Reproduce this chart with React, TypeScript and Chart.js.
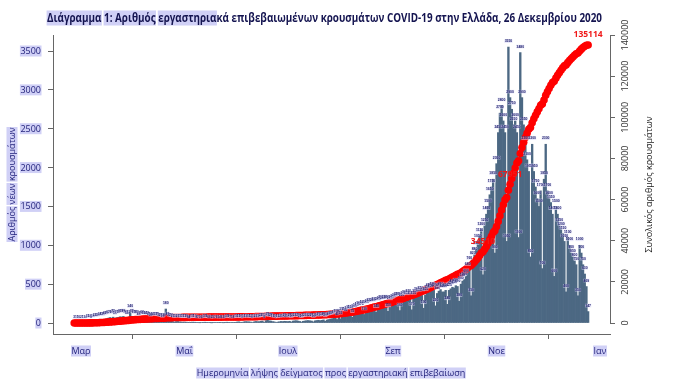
import React, { useEffect, useRef } from 'react';
import { Chart, registerables } from 'chart.js';

Chart.register(...registerables);

// ---------- texts ----------
const titleText =
  'Διάγραμμα 1: Αριθμός εργαστηριακά επιβεβαιωμένων κρουσμάτων COVID-19 στην Ελλάδα, 26 Δεκεμβρίου 2020';
const titleHighlighted = ['Διάγραμμα', '1: Αριθμός', 'εργαστηρια'];
const xAxisTitle = 'Ημερομηνία λήψης δείγματος προς εργαστηριακή επιβεβαίωση';
const yLeftTitle = 'Αριθμός νέων κρουσμάτων';
const yRightTitle = 'Συνολικός αριθμός κρουσμάτων';

// ---------- data (daily new cases by sample date) ----------
const firstSampleDate = '2020-02-26';
const casesFeb = [3, 1, 1, 0];
const casesMar = [2, 1, 3, 4, 12, 14, 8, 18, 22, 28, 30, 38, 42, 35, 48, 55, 62, 70, 65, 75, 50, 70, 72, 80, 78, 85, 70, 55, 72, 140, 85];
const casesApr = [65, 70, 60, 40, 55, 62, 58, 50, 48, 45, 30, 42, 40, 38, 35, 30, 25, 15, 30, 180, 45, 28, 22, 20, 12, 18, 20, 15, 12, 10];
const casesMay = [12, 10, 8, 4, 9, 11, 10, 8, 7, 3, 6, 8, 10, 9, 6, 8, 2, 5, 7, 6, 5, 4, 6, 3, 8, 10, 9, 7, 5, 8, 9];
const casesJun = [12, 15, 10, 5, 14, 18, 16, 15, 12, 6, 14, 20, 18, 16, 22, 25, 8, 30, 35, 28, 25, 18, 15, 7, 12, 16, 20, 18, 22, 20];
const casesJul = [18, 22, 12, 25, 28, 30, 25, 20, 12, 22, 26, 30, 32, 28, 25, 14, 28, 32, 35, 30, 35, 40, 22, 38, 45, 50, 55, 60, 75, 45, 85];
const casesAug = [55, 100, 110, 95, 120, 125, 135, 75, 145, 155, 170, 180, 175, 190, 110, 195, 210, 215, 225, 220, 235, 140, 230, 245, 255, 250, 265, 260, 150, 240, 255];
const casesSep = [270, 285, 300, 295, 160, 290, 310, 320, 305, 330, 315, 170, 310, 340, 360, 350, 370, 355, 190, 360, 390, 410, 400, 430, 420, 220, 380, 410, 430, 400];
const casesOct = [400, 420, 240, 420, 440, 460, 450, 480, 470, 280, 500, 540, 560, 600, 680, 760, 350, 820, 880, 950, 1050, 1120, 1200, 620, 1250, 1400, 1500, 1650, 1750, 1850, 900];
const casesNov = [2050, 2450, 2700, 2800, 2600, 2450, 1050, 3550, 2900, 2750, 2550, 2600, 2450, 1100, 3480, 2900, 2550, 2300, 2100, 1950, 850, 2300, 1950, 1750, 1600, 1500, 1700, 700, 1850, 2300];
const casesDec = [1700, 1600, 1550, 1400, 600, 1500, 1400, 1250, 1200, 1150, 1050, 400, 1100, 1000, 900, 850, 800, 750, 350, 1000, 900, 750, 630, 469, 147];

// ---------- axes ----------
const monthTickLabels = ['Μαρ', 'Μαΐ', 'Ιουλ', 'Σεπ', 'Νοε', 'Ιαν'];
const monthTickDates = ['2020-03-01', '2020-05-01', '2020-07-01', '2020-09-01', '2020-11-01', '2021-01-01'];
const leftTicks = [0, 500, 1000, 1500, 2000, 2500, 3000, 3500];
const rightTicks = [0, 20000, 40000, 60000, 80000, 100000, 120000, 140000];

// labels on the cumulative curve
const cumLabelDates = ['2020-10-24', '2020-11-09', '2020-12-25'];
const cumLabelTexts = ['34510', '67951', '135114'];

// ---------- helpers ----------
const dayOf = (iso: string) => {
  const [y, m, d] = iso.split('-').map(Number);
  return (Date.UTC(y, m - 1, d) - Date.UTC(2020, 2, 1)) / 86400000;
};

const dailyCases = [
  ...casesFeb, ...casesMar, ...casesApr, ...casesMay, ...casesJun, ...casesJul,
  ...casesAug, ...casesSep, ...casesOct, ...casesNov, ...casesDec,
];
const startDay = dayOf(firstSampleDate);
const barPoints = dailyCases.map((v, i) => ({ x: startDay + i, y: v }));
let running = 0;
const cumPoints = dailyCases.map((v, i) => {
  running += v;
  return { x: startDay + i, y: running };
});

const HL = 'rgb(208,208,246)';
const NAVY = '#23237c';
const FONT = '"Open Sans", "Noto Sans", sans-serif';

function drawWords(ctx: CanvasRenderingContext2D, text: string, x: number, y: number, align: 'left' | 'center' | 'right', font: string, color: string, hl: string | null, boxH: number, maxW?: number) {
  ctx.save();
  ctx.font = font;
  const w = ctx.measureText(text).width;
  const k = maxW && w > maxW ? maxW / w : 1;
  const tw = w * k;
  const left = align === 'center' ? x - tw / 2 : align === 'right' ? x - tw : x;
  ctx.translate(left, y);
  ctx.scale(k, 1);
  if (hl) {
    ctx.fillStyle = hl;
    const sp = ctx.measureText(' ').width;
    let cx = 0;
    for (const wd of text.split(' ')) {
      const ww = ctx.measureText(wd).width;
      ctx.fillRect(cx - 0.5, -boxH / 2, ww + 1, boxH);
      cx += ww + sp;
    }
  }
  ctx.fillStyle = color;
  ctx.textAlign = 'left';
  ctx.textBaseline = 'middle';
  ctx.fillText(text, 0, 0.5);
  ctx.restore();
}

const annotations = {
  id: 'annotations',
  afterDatasetsDraw(chart: any) {
    const ctx: CanvasRenderingContext2D = chart.ctx;
    const sx = chart.scales.x;
    const sy = chart.scales.y;
    const sr = chart.scales.y2;
    ctx.save();
    // value labels on bars
    ctx.font = 'bold 3.4px "Liberation Sans", Arial, sans-serif';
    ctx.textAlign = 'center';
    ctx.textBaseline = 'middle';
    barPoints.forEach((p) => {
      const px = sx.getPixelForValue(p.x);
      const py = sy.getPixelForValue(p.y) - 6;
      const t = String(p.y);
      const w = ctx.measureText(t).width;
      ctx.fillStyle = 'rgba(214,214,244,0.55)';
      ctx.fillRect(px - w / 2 - 0.3, py - 1.8, w + 0.6, 3.6);
      ctx.fillStyle = '#1b1b6b';
      ctx.fillText(t, px, py + 0.2);
    });
    // labels on the cumulative curve
    ctx.font = `bold 8.5px ${FONT}`;
    ctx.fillStyle = '#f01818';
    cumLabelDates.forEach((d, i) => {
      const idx = Math.round(dayOf(d) - startDay);
      const p = cumPoints[idx];
      const px = sx.getPixelForValue(p.x);
      const py = sr.getPixelForValue(p.y) - 10;
      ctx.fillText(cumLabelTexts[i], px, py);
    });
    ctx.restore();
  },
  afterDraw(chart: any) {
    const ctx: CanvasRenderingContext2D = chart.ctx;
    const sx = chart.scales.x;
    const sy = chart.scales.y;
    const sr = chart.scales.y2;
    const ca = chart.chartArea;
    // right axis line
    ctx.save();
    ctx.strokeStyle = '#666';
    ctx.lineWidth = 1;
    ctx.beginPath();
    const rx = Math.round(ca.right) + 0.5;
    ctx.moveTo(rx, sr.getPixelForValue(0));
    ctx.lineTo(rx, sr.getPixelForValue(140000));
    ctx.stroke();
    ctx.restore();

    // title
    ctx.save();
    ctx.font = `bold 12px ${FONT}`;
    const tw = ctx.measureText(titleText).width;
    const k = 555 / tw;
    ctx.translate(47, 18);
    ctx.scale(k, 1);
    ctx.fillStyle = HL;
    let searchFrom = 0;
    titleHighlighted.forEach((seg) => {
      const at = titleText.indexOf(seg, searchFrom);
      searchFrom = at + seg.length;
      const x0 = ctx.measureText(titleText.slice(0, at)).width;
      const ww = ctx.measureText(seg).width;
      ctx.fillRect(x0 - 0.5, -7.5, ww + 1, 15);
    });
    ctx.fillStyle = '#141450';
    ctx.textAlign = 'left';
    ctx.textBaseline = 'middle';
    ctx.fillText(titleText, 0, 0.5);
    ctx.restore();

    const f9 = `9px ${FONT}`;
    // left ticks
    leftTicks.forEach((v) => {
      drawWords(ctx, String(v), 41, sy.getPixelForValue(v), 'right', f9, NAVY, HL, 11);
    });
    // left title
    ctx.save();
    ctx.translate(12, (ca.top + ca.bottom) / 2);
    ctx.rotate(-Math.PI / 2);
    drawWords(ctx, yLeftTitle, 0, 0, 'center', f9, NAVY, HL, 11, 114);
    ctx.restore();
    // x ticks
    monthTickDates.forEach((d, i) => {
      drawWords(ctx, monthTickLabels[i], sx.getPixelForValue(dayOf(d)), 351, 'center', f9, NAVY, HL, 11);
    });
    // x title
    drawWords(ctx, xAxisTitle, 331, 373, 'center', f9, NAVY, HL, 11, 275);
    // right ticks
    rightTicks.forEach((v) => {
      ctx.save();
      ctx.translate(624.5, sr.getPixelForValue(v));
      ctx.rotate(-Math.PI / 2);
      drawWords(ctx, String(v), 0, 0, 'center', f9, '#333', null, 0);
      ctx.restore();
    });
    // right title
    ctx.save();
    ctx.translate(648.5, (ca.top + ca.bottom) / 2);
    ctx.rotate(-Math.PI / 2);
    drawWords(ctx, yRightTitle, 0, 0, 'center', f9, '#222', null, 0, 138);
    ctx.restore();
  },
};

export default function App() {
  const ref = useRef<HTMLCanvasElement | null>(null);
  useEffect(() => {
    if (!ref.current) return;
    const gridOpts = { display: true, drawOnChartArea: false, drawTicks: true, tickLength: 5, color: '#666', lineWidth: 1 };
    const chart = new Chart(ref.current, {
      type: 'bar',
      data: {
        datasets: [
          {
            type: 'line',
            label: 'Συνολικά',
            data: cumPoints as any,
            yAxisID: 'y2',
            xAxisID: 'x',
            showLine: false,
            pointRadius: 3.8,
            pointHoverRadius: 3.8,
            pointBackgroundColor: '#ff0000',
            pointBorderWidth: 0,
            order: 0,
          } as any,
          {
            type: 'bar',
            label: 'Νέα',
            data: barPoints as any,
            yAxisID: 'y',
            xAxisID: 'x',
            backgroundColor: '#4c6883',
            borderWidth: 0,
            barPercentage: 1,
            categoryPercentage: 1,
            order: 1,
          } as any,
        ],
      },
      options: {
        responsive: false,
        animation: false,
        events: [],
        layout: { padding: { top: 35, left: 0, right: 0, bottom: 0 } },
        plugins: { legend: { display: false }, tooltip: { enabled: false }, title: { display: false } },
        scales: {
          x: {
            type: 'linear',
            min: -16.51,
            max: 311.9,
            offset: false,
            afterBuildTicks: (s: any) => {
              s.ticks = monthTickDates.map((d) => ({ value: dayOf(d) }));
            },
            ticks: { display: false },
            grid: gridOpts,
            border: { display: true, color: '#666', width: 1 },
            afterFit: (s: any) => {
              s.height = 57;
            },
          },
          y: {
            position: 'left',
            min: -141.5,
            max: 3705.9,
            afterBuildTicks: (s: any) => {
              s.ticks = leftTicks.map((v) => ({ value: v }));
            },
            ticks: { display: false },
            grid: gridOpts,
            border: { display: true, color: '#666', width: 1 },
            afterFit: (s: any) => {
              s.width = 53;
            },
          },
          y2: {
            position: 'right',
            min: -5347,
            max: 140000,
            afterBuildTicks: (s: any) => {
              s.ticks = rightTicks.map((v) => ({ value: v }));
            },
            ticks: { display: false },
            grid: gridOpts,
            border: { display: false },
            afterFit: (s: any) => {
              s.width = 70;
            },
          },
        },
      } as any,
      plugins: [annotations],
    });
    return () => chart.destroy();
  }, []);
  return (
    <div style={{ position: 'absolute', left: 0, top: 0, width: 680, height: 391, background: '#fff' }}>
      <canvas ref={ref} width={680} height={391} style={{ display: 'block' }} />
    </div>
  );
}
